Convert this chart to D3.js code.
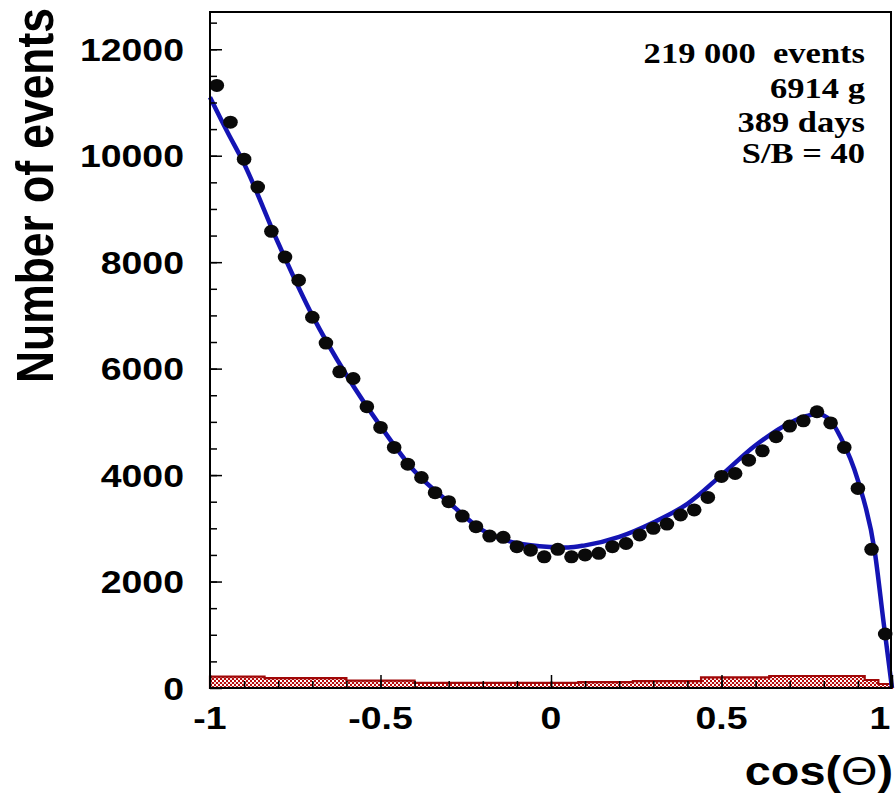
<!DOCTYPE html>
<html>
<head>
<meta charset="utf-8">
<script src="https://cdn.jsdelivr.net/npm/d3@7"></script>
<style>
body { margin: 0; background: #fff; }
svg { display: block; }
.lab { font-family: "Liberation Sans", Arial, sans-serif; font-weight: bold; fill: #000; }
.info { font-family: "Liberation Serif", "Times New Roman", serif; font-weight: bold; font-size: 29.5px; fill: #000; white-space: pre; }
</style>
</head>
<body>
<svg id="chart" width="895" height="798"></svg>
<script>
// bin centres of the measured histogram (bin width 0.04)
var cosBins = [-0.98,-0.94,-0.90,-0.86,-0.82,-0.78,-0.74,-0.70,-0.66,-0.62,
               -0.58,-0.54,-0.50,-0.46,-0.42,-0.38,-0.34,-0.30,-0.26,-0.22,
               -0.18,-0.14,-0.10,-0.06,-0.02, 0.02, 0.06, 0.10, 0.14, 0.18,
                0.22, 0.26, 0.30, 0.34, 0.38, 0.42, 0.46, 0.50, 0.54, 0.58,
                0.62, 0.66, 0.70, 0.74, 0.78, 0.82, 0.86, 0.90, 0.94, 0.98];
var counts = [11320,10630,9935,9410,8580,8095,7660,6965,6480,5940,
              5815,5285,4895,4520,4205,3955,3670,3500,3230,3030,
              2855,2830,2655,2590,2465,2605,2465,2500,2530,2655,
              2715,2875,3000,3080,3250,3345,3580,3975,4030,4280,
              4455,4720,4920,5020,5190,4980,4520,3750,2605,1015];

// fitted curve, sampled
var fitX = [-1,-0.95,-0.9,-0.8,-0.7,-0.6,-0.5,-0.4,-0.3,-0.2,-0.1,0,0.05,0.1,0.2,0.3,0.4,0.5,0.6,0.7,0.75,0.78,0.82,0.85,0.9,0.95,0.975,1];
var fitY = [11100,10460,9850,8360,7000,5880,4920,4070,3490,2960,2720,2650,2640,2680,2840,3110,3460,4000,4560,4980,5110,5150,5020,4700,3900,2540,1250,0];

// background histogram (step edges and contents)
var bgEdges  = [-1,-0.84,-0.6,-0.4,0.08,0.24,0.44,0.64,0.92,0.96,1];
var bgCounts = [215,185,140,95,110,130,200,225,150,75];

// axis ticks
var xMajor = [-1,-0.5,0,0.5,1];
var xTickLabels = ["-1","-0.5","0","0.5","1"];
var yMajor = [0,2000,4000,6000,8000,10000,12000];
var yTickLabels = ["0","2000","4000","6000","8000","10000","12000"];

var infoLines = ["219 000  events","6914 g","389 days","S/B = 40"];

var svg = d3.select("#chart");
var margin = {top: 12, right: 3, bottom: 110, left: 210},
    W = 895, H = 798;
var k = 1.17; // the picture is stretched horizontally

var x = d3.scaleLinear().domain([-1, 1]).range([margin.left, W - margin.right]);
var y = d3.scaleLinear().domain([0, 12700]).range([H - margin.bottom, margin.top]);

// hatch pattern for the background
var pat = svg.append("defs").append("pattern")
    .attr("id", "hatch")
    .attr("patternUnits", "userSpaceOnUse")
    .attr("width", 4).attr("height", 4);
pat.append("rect").attr("width", 4).attr("height", 4).attr("fill", "#b80c0c");
pat.append("rect").attr("width", 2).attr("height", 2).attr("fill", "#fff");
pat.append("rect").attr("x", 2).attr("y", 2).attr("width", 2).attr("height", 2).attr("fill", "#f4dede");

var bgData = bgEdges.map(function(e, i) {
  return {x: e, v: i < bgCounts.length ? bgCounts[i] : bgCounts[bgCounts.length - 1]};
});
svg.append("path")
    .datum(bgData)
    .attr("fill", "url(#hatch)")
    .attr("stroke", "#a00808")
    .attr("stroke-width", 2.2)
    .attr("d", d3.area().curve(d3.curveStepAfter)
      .x(function(d) { return x(d.x); })
      .y0(y(0))
      .y1(function(d) { return y(d.v); }));

// fit line
svg.append("path")
    .datum(fitX.map(function(v, i) { return [v, fitY[i]]; }))
    .attr("fill", "none")
    .attr("stroke", "#1414b4")
    .attr("stroke-width", 4.5)
    .attr("d", d3.line().curve(d3.curveMonotoneX)
      .x(function(d) { return x(d[0]); })
      .y(function(d) { return y(d[1]); }));

// data points
svg.selectAll(".pt")
  .data(cosBins)
  .enter().append("ellipse")
    .attr("class", "pt")
    .attr("cx", function(d) { return x(d); })
    .attr("cy", function(d, i) { return y(counts[i]); })
    .attr("rx", 7.3)
    .attr("ry", 6.5)
    .attr("fill", "#0a0a0a");

// ticks (pointing inside the frame)
function ticks(axis, values, size, transform) {
  svg.append("g")
      .attr("transform", transform)
      .call(axis.tickValues(values).tickSize(-size).tickFormat(""))
      .call(function(g) { g.select(".domain").remove(); })
      .selectAll("line").attr("stroke", "#000").attr("stroke-width", 1.5);
}
var bottom = "translate(0," + y(0) + ")", left = "translate(" + x(-1) + ",0)";
ticks(d3.axisBottom(x), d3.range(-0.9, 1, 0.1), 7, bottom);
ticks(d3.axisBottom(x), xMajor, 13, bottom);
ticks(d3.axisLeft(y), d3.range(500, 12700, 500), 7, left);
ticks(d3.axisLeft(y), yMajor, 12, left);

// frame
svg.append("rect")
    .attr("x", x(-1)).attr("y", y(12700))
    .attr("width", x(1) - x(-1) - 1).attr("height", y(0) - y(12700))
    .attr("fill", "none").attr("stroke", "#000").attr("stroke-width", 2);

// tick labels (the last one is pulled in so it stays on the page)
svg.selectAll(".xl")
  .data(xMajor)
  .enter().append("text")
    .attr("class", "lab")
    .attr("transform", function(d) { return "translate(" + Math.min(x(d), 880) + ",729) scale(" + k + ",1)"; })
    .attr("text-anchor", "middle")
    .style("font-size", "32px")
    .text(function(d, i) { return xTickLabels[i]; });

svg.selectAll(".yl")
  .data(yMajor)
  .enter().append("text")
    .attr("class", "lab")
    .attr("transform", function(d) { return "translate(184," + y(d) + ") scale(" + k + ",1)"; })
    .attr("text-anchor", "end")
    .attr("dy", "0.36em")
    .style("font-size", "32px")
    .text(function(d, i) { return yTickLabels[i]; });

// axis titles
svg.append("text")
    .attr("class", "lab")
    .attr("transform", "translate(53,383) scale(" + k + ",1) rotate(-90)")
    .style("font-size", "44.4px")
    .text("Number of events");

var xt = svg.append("text")
    .attr("class", "lab")
    .attr("transform", "translate(893,785) scale(" + k + ",1)")
    .attr("text-anchor", "end")
    .style("font-size", "40px");
xt.append("tspan").text("cos(");
xt.append("tspan").style("font-weight", "normal").text("\u0398");
xt.append("tspan").text(")");

// info box
var infoY = [63, 98, 132, 163];
svg.selectAll(".info")
  .data(infoLines)
  .enter().append("text")
    .attr("class", "info")
    .attr("transform", function(d, i) { return "translate(865," + infoY[i] + ") scale(" + k + ",1)"; })
    .attr("text-anchor", "end")
    .text(function(d) { return d; });
</script>
</body>
</html>
